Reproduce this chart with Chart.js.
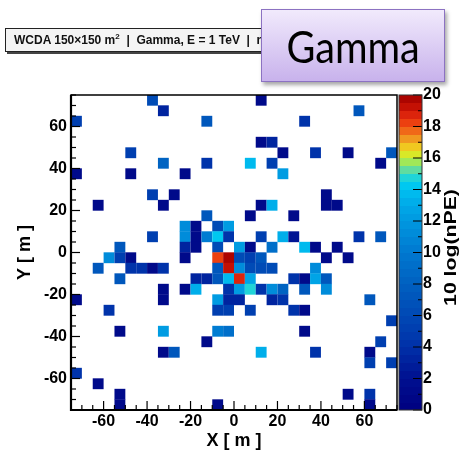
<!DOCTYPE html>
<html>
<head>
<meta charset="utf-8">
<script src="https://cdn.jsdelivr.net/npm/chart.js@4.4.1/dist/chart.umd.min.js"></script>
<style>
  html, body { margin: 0; padding: 0; background: #fff; }
  #wrap { position: relative; width: 462px; height: 452px; overflow: hidden; }
  #plot { position: absolute; left: 0; top: 0; }
  .pave {
    position: absolute; left: 5px; top: 28px; width: 300px; height: 24px;
    box-sizing: border-box; background: #f4f4f4; border: 1px solid #222;
    box-shadow: 2px 2px 0 #444; padding-left: 8px; white-space: nowrap;
    font: bold 12px "Liberation Sans", Arial, sans-serif; line-height: 22px; color: #111;
  }
  .pave sup { font-size: 8px; line-height: 0; }
  .tag {
    position: absolute; left: 261px; top: 9px; width: 184px; height: 73px;
    box-sizing: border-box; border: 1.5px solid #8c72c2;
    background: linear-gradient(#f1eafc, #c8b2ec);
    box-shadow: 2px 3px 4px rgba(0, 0, 0, 0.35);
    display: flex; align-items: center; justify-content: center;
  }
  .tag span { font: 44px Lato, "Noto Sans", sans-serif; color: #000; transform: scaleX(0.9); }
</style>
</head>
<body>
<div id="wrap">
  <canvas id="plot" width="462" height="452"></canvas>
  <div class="pave">WCDA 150&times;150 m<sup>2</sup>&nbsp;&nbsp;|&nbsp;&nbsp;Gamma, E = 1 TeV&nbsp;&nbsp;|&nbsp;&nbsp;n</div>
  <div class="tag"><span>Gamma</span></div>
</div>
<script>
// detector cells are 5 m x 5 m, positions are cell centres in metres
const binSize = 5;
const xTicks = [-60, -40, -20, 0, 20, 40, 60];
const yTicks = [-60, -40, -20, 0, 20, 40, 60];
const zTicks = [0, 2, 4, 6, 8, 10, 12, 14, 16, 18, 20];

const cellX = [
  -37.5, 12.5,
  -32.5, 57.5,
  -72.5, -12.5, 32.5,
  12.5, 17.5,
  -47.5, 22.5, 37.5, 52.5, 72.5,
  -32.5, -12.5, 7.5, 17.5, 67.5,
  -72.5, -47.5, -22.5, 22.5,
  -37.5, -27.5, 42.5,
  -62.5, -32.5, 12.5, 17.5, 42.5, 47.5,
  -12.5, 7.5, 27.5,
  -22.5, -17.5, -7.5, -2.5,
  -37.5, -22.5, -17.5, -12.5, -7.5, -2.5, 12.5, 22.5, 27.5, 57.5, 67.5,
  -52.5, -22.5, -17.5, -7.5, 2.5, 7.5, 17.5, 32.5, 37.5, 47.5,
  -57.5, -52.5, -47.5, -22.5, -7.5, -2.5, 2.5, 7.5, 12.5, 42.5, 52.5,
  -62.5, -47.5, -42.5, -37.5, -32.5, -7.5, -2.5, 2.5, 7.5, 12.5, 17.5, 37.5,
  -52.5, -17.5, -12.5, -7.5, -2.5, 2.5, 7.5, 27.5, 32.5, 37.5, 42.5,
  -32.5, -22.5, -17.5, -2.5, 2.5, 7.5, 12.5, 17.5, 22.5, 32.5, 42.5,
  -72.5, -32.5, -7.5, -2.5, 2.5, 17.5, 22.5, 62.5,
  -57.5, -7.5, -2.5, 7.5, 27.5, 32.5,
  72.5,
  -52.5, -32.5, -7.5, -2.5, 32.5,
  -12.5, 67.5,
  -32.5, -27.5, 12.5, 37.5, 62.5,
  62.5, 72.5,
  -72.5,
  -62.5,
  -52.5, 52.5, 62.5,
  -52.5, -7.5, 62.5
];
const cellY = [
  72.5, 72.5,
  67.5, 67.5,
  62.5, 62.5, 62.5,
  52.5, 52.5,
  47.5, 47.5, 47.5, 47.5, 47.5,
  42.5, 42.5, 42.5, 42.5, 42.5,
  37.5, 37.5, 37.5, 37.5,
  27.5, 27.5, 27.5,
  22.5, 22.5, 22.5, 22.5, 22.5, 22.5,
  17.5, 17.5, 17.5,
  12.5, 12.5, 12.5, 12.5,
  7.5, 7.5, 7.5, 7.5, 7.5, 7.5, 7.5, 7.5, 7.5, 7.5, 7.5,
  2.5, 2.5, 2.5, 2.5, 2.5, 2.5, 2.5, 2.5, 2.5, 2.5,
  -2.5, -2.5, -2.5, -2.5, -2.5, -2.5, -2.5, -2.5, -2.5, -2.5, -2.5,
  -7.5, -7.5, -7.5, -7.5, -7.5, -7.5, -7.5, -7.5, -7.5, -7.5, -7.5, -7.5,
  -12.5, -12.5, -12.5, -12.5, -12.5, -12.5, -12.5, -12.5, -12.5, -12.5, -12.5,
  -17.5, -17.5, -17.5, -17.5, -17.5, -17.5, -17.5, -17.5, -17.5, -17.5, -17.5,
  -22.5, -22.5, -22.5, -22.5, -22.5, -22.5, -22.5, -22.5,
  -27.5, -27.5, -27.5, -27.5, -27.5, -27.5,
  -32.5,
  -37.5, -37.5, -37.5, -37.5, -37.5,
  -42.5, -42.5,
  -47.5, -47.5, -47.5, -47.5, -47.5,
  -52.5, -52.5,
  -57.5,
  -62.5,
  -67.5, -67.5, -67.5,
  -72.5, -72.5, -72.5
];
// 10 log(nPE) per cell
const cellE = [
  6, 1,
  3, 7,
  5, 7, 4,
  1, 3,
  5, 1, 4, 1, 7,
  8, 4, 13.5, 5, 1,
  1, 1, 1, 12,
  5, 1, 1,
  1, 1, 1, 13, 1, 1,
  7, 1, 1,
  11, 1, 6, 12,
  5, 11, 1, 10, 14, 4, 5, 13, 2, 4, 7,
  7, 3, 1, 6, 12, 1, 9, 13.5, 1, 1,
  11, 5, 1, 1, 18.3, 19.8, 6, 5, 7, 1, 1,
  7, 4, 4, 1, 4, 7, 19.3, 11, 6, 6, 6, 11,
  7, 3, 3, 7, 13.5, 18.6, 12.5, 4, 1, 12.5, 7,
  1, 1, 13, 4, 12, 14.5, 4, 11, 8, 7, 11,
  1, 1, 12, 3, 3, 3, 4, 7,
  4, 5, 5, 5, 4, 1,
  5,
  1, 12, 10, 9, 1,
  1, 5,
  1, 7, 13, 4, 1,
  5, 5,
  4,
  1,
  1, 1, 4,
  1, 1, 1
];

// rainbow palette, split into 0.5-wide bands like the colour bar
const bandStep = 0.5;
const paletteStops = [0, 2, 4, 6, 8, 10, 12, 13, 14, 14.5, 15, 15.5, 16, 16.5, 17, 17.5, 18, 18.5, 19, 19.5, 20];
const paletteColors = ['#000080', '#001090', '#0030a8', '#0048b4', '#0060c0', '#0078d0', '#0098e0', '#00a8e8',
  '#00c0f0', '#00d0f0', '#40d8c0', '#80e080', '#c0f030', '#f0e020', '#f0b020', '#f08020', '#f05010',
  '#e83010', '#d01808', '#b80800', '#a00000'];

function hexToRgb(h) {
  return [parseInt(h.slice(1, 3), 16), parseInt(h.slice(3, 5), 16), parseInt(h.slice(5, 7), 16)];
}

function paletteColor(v) {
  const q = Math.min(Math.floor(v / bandStep) * bandStep + bandStep / 2, 20);
  let i = 0;
  while (i < paletteStops.length - 2 && q > paletteStops[i + 1]) i++;
  const t = (q - paletteStops[i]) / (paletteStops[i + 1] - paletteStops[i]);
  const a = hexToRgb(paletteColors[i]), b = hexToRgb(paletteColors[i + 1]);
  const c = a.map((ch, k) => Math.round(ch + (b[k] - ch) * t));
  return `rgb(${c[0]},${c[1]},${c[2]})`;
}

// 'rect' point style draws a square of side 2 * r * SQRT1_2
function cellRadius(ctx) {
  const { x, y } = ctx.chart.scales;
  const w = Math.abs(x.getPixelForValue(binSize) - x.getPixelForValue(0));
  const h = Math.abs(y.getPixelForValue(binSize) - y.getPixelForValue(0));
  return Math.max(w, h) / 2 / Math.SQRT1_2;
}

const axisFont = { family: '"Liberation Sans", Arial, sans-serif', size: 16, weight: 'bold' };
const titleFont = { family: '"Liberation Sans", Arial, sans-serif', size: 18, weight: 'bold' };

// frame with inward ticks, ROOT style
const framePlugin = {
  id: 'frame',
  afterDatasetsDraw(chart) {
    const { ctx, chartArea: a, scales: { x, y } } = chart;
    ctx.save();
    ctx.strokeStyle = '#000';
    ctx.lineWidth = 1.2;
    for (let v = x.min; v <= x.max; v += binSize) {
      const px = x.getPixelForValue(v);
      const len = xTicks.includes(v) ? 9 : 5;
      ctx.beginPath(); ctx.moveTo(px, a.bottom); ctx.lineTo(px, a.bottom - len); ctx.stroke();
    }
    for (let v = y.min; v <= y.max; v += binSize) {
      const py = y.getPixelForValue(v);
      const len = yTicks.includes(v) ? 9 : 5;
      ctx.beginPath(); ctx.moveTo(a.left, py); ctx.lineTo(a.left + len, py); ctx.stroke();
    }
    ctx.lineWidth = 1.5;
    ctx.strokeRect(a.left, a.top, a.right - a.left, a.bottom - a.top);
    ctx.lineWidth = 2.2;
    ctx.beginPath();
    ctx.moveTo(a.left, a.top); ctx.lineTo(a.left, a.bottom); ctx.lineTo(a.right, a.bottom);
    ctx.stroke();
    ctx.restore();
  }
};

// colour bar drawn against the z scale
const colorbarPlugin = {
  id: 'colorbar',
  afterDraw(chart) {
    const { ctx, chartArea: a } = chart;
    const z = chart.scales.z;
    const left = a.right + 2, width = 23;
    ctx.save();
    for (let v = z.min; v < z.max; v += bandStep) {
      const top = z.getPixelForValue(v + bandStep), bottom = z.getPixelForValue(v);
      ctx.fillStyle = paletteColor(v);
      ctx.fillRect(left, Math.floor(top), width, Math.ceil(bottom) - Math.floor(top));
    }
    ctx.strokeStyle = '#000';
    ctx.lineWidth = 1;
    for (let v = z.min; v <= z.max; v += 1) {
      const py = z.getPixelForValue(v);
      const len = zTicks.includes(v) ? 9 : 4;
      ctx.beginPath(); ctx.moveTo(left + width, py); ctx.lineTo(left + width - len, py); ctx.stroke();
    }
    ctx.strokeStyle = '#333';
    ctx.strokeRect(left, a.top, width, a.bottom - a.top);

    ctx.translate(451, (a.top + a.bottom) / 2 - 5);
    ctx.rotate(-Math.PI / 2);
    ctx.scale(1.25, 1);
    ctx.font = 'bold 17px "Liberation Sans", Arial, sans-serif';
    ctx.fillStyle = '#000';
    ctx.textAlign = 'center';
    ctx.textBaseline = 'middle';
    ctx.fillText('10 log(nPE)', 0, 0);
    ctx.restore();
  }
};

const cells = cellX.map((x, i) => ({ x: x, y: cellY[i], v: cellE[i] }));

new Chart(document.getElementById('plot'), {
  type: 'scatter',
  data: {
    datasets: [{
      data: cells,
      pointStyle: 'rect',
      rotation: 0,
      pointRadius: cellRadius,
      pointHoverRadius: cellRadius,
      pointBorderWidth: 0,
      pointBackgroundColor: c => c.raw ? paletteColor(c.raw.v) : '#000'
    }]
  },
  options: {
    responsive: false,
    animation: false,
    events: [],
    layout: { padding: { top: 95, left: 0, right: 0, bottom: 0 } },
    plugins: { legend: { display: false }, tooltip: { enabled: false } },
    scales: {
      x: {
        type: 'linear', position: 'bottom', min: -75, max: 75,
        afterBuildTicks: s => { s.ticks = xTicks.map(value => ({ value })); },
        afterFit: s => { s.height = 42; },
        grid: { display: false, drawTicks: false },
        border: { display: false },
        ticks: { padding: 2, color: '#000', font: axisFont, maxRotation: 0 },
        title: { display: true, text: 'X [ m ]', color: '#000', font: titleFont, padding: { top: 0, bottom: 0 } }
      },
      y: {
        type: 'linear', position: 'left', min: -75, max: 75,
        afterBuildTicks: s => { s.ticks = yTicks.map(value => ({ value })); },
        afterFit: s => { s.width = 71; },
        grid: { display: false, drawTicks: false },
        border: { display: false },
        ticks: { padding: 4, color: '#000', font: axisFont },
        title: { display: true, text: 'Y [ m ]', color: '#000', font: titleFont, padding: { top: 14, bottom: 0 } }
      },
      z: {
        type: 'linear', position: 'right', min: 0, max: 20,
        afterBuildTicks: s => { s.ticks = zTicks.map(value => ({ value })); },
        afterFit: s => { s.width = 65; },
        grid: { display: false, drawTicks: false },
        border: { display: false },
        ticks: { padding: 26, color: '#000', font: axisFont }
      }
    }
  },
  plugins: [framePlugin, colorbarPlugin]
});
</script>
</body>
</html>
